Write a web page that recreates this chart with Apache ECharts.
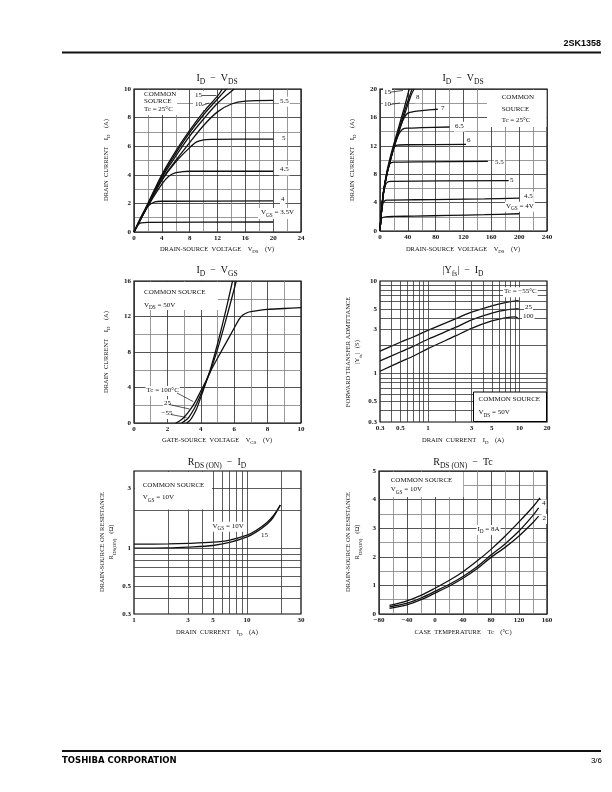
<!DOCTYPE html>
<html><head><meta charset="utf-8">
<script src="https://cdn.jsdelivr.net/npm/echarts@6/dist/echarts.min.js"></script>
<style>html,body{margin:0;padding:0;background:#fff}#c{width:612px;height:792px}</style>
</head><body><div id="c"></div>
<script>
// ---------- DATA ----------
// Chart 1: ID - VDS (0-24 V)
const lo_15  = [[0,0],[2,2.0],[4,4.0],[6,5.65],[8,7.1],[10,8.4],[12,9.5],[12.7,10]];
const lo_10  = [[0,0],[2,1.95],[4,3.9],[6,5.5],[8,6.95],[10,8.2],[12,9.3],[13.3,10]];
const lo_6   = [[0,0],[2,1.9],[4,3.8],[6,5.3],[8,6.7],[10,7.9],[12,9.0],[14.4,10]];
const lo_5_5 = [[0,0],[2,1.85],[4,3.65],[6,5.0],[8,6.25],[10,7.45],[12,8.4],[14,8.95],[16,9.15],[20,9.2]];
const lo_5   = [[0,0],[2,1.85],[4,3.6],[6,4.9],[8,5.9],[9,6.3],[10,6.45],[11,6.48],[20,6.5]];
const lo_4_5 = [[0,0],[2,1.8],[4,3.35],[5,3.9],[6,4.15],[7,4.22],[8,4.25],[20,4.25]];
const lo_4   = [[0,0],[1,1.05],[2,1.8],[3,2.1],[4,2.15],[20,2.17]];
const lo_3_5 = [[0,0],[0.5,0.45],[1,0.64],[2,0.67],[20,0.7]];
// Chart 2: ID - VDS (0-240 V)
const hi_15  = [[0,0],[2,2.7],[5,5.6],[10,8.4],[15,10.5],[20,12.3],[25,14.0],[30,15.7],[35,17.4],[42,20]];
const hi_10  = [[0,0],[2,2.6],[5,5.5],[10,8.2],[15,10.2],[20,12.0],[25,13.6],[30,15.2],[35,16.8],[40,18.3],[46,20]];
const hi_8   = [[0,0],[2,2.6],[5,5.4],[10,8.1],[15,10.0],[20,11.7],[25,13.3],[30,14.8],[35,16.3],[40,17.8],[45,19.2],[49,20]];
const hi_7   = [[0,0],[2,2.6],[5,5.4],[10,8.1],[15,10.0],[20,11.8],[25,13.4],[30,14.9],[35,16.0],[40,16.6],[50,16.85],[60,16.95],[70,17.05],[83,17.15]];
const hi_6_5 = [[0,0],[2,2.6],[5,5.4],[10,8.1],[15,10.0],[20,11.8],[25,13.2],[30,14.1],[35,14.45],[40,14.5],[60,14.55],[100,14.65]];
const hi_6   = [[0,0],[2,2.6],[5,5.4],[10,8.1],[15,10.0],[18,11.2],[21,11.9],[25,12.1],[40,12.15],[126,12.2]];
const hi_5_5 = [[0,0],[2,2.6],[5,5.4],[10,8.0],[13,9.2],[16,9.6],[20,9.7],[60,9.75],[155,9.8]];
const hi_5   = [[0,0],[2,2.6],[5,5.2],[8,6.5],[11,6.9],[15,7.0],[185,7.1]];
const hi_4_5 = [[0,0],[2,2.5],[4,3.8],[6,4.2],[10,4.35],[50,4.4],[100,4.45],[150,4.52],[200,4.62]];
const hi_4   = [[0,0],[1,1.4],[3,1.85],[8,2.0],[20,2.05],[50,2.1],[100,2.2],[150,2.3],[200,2.43]];
// Chart 3: ID - VGS
const vgs_100 = [[2.5,0],[2.75,0.25],[3.0,0.65],[3.4,1.6],[3.7,2.5],[4.0,3.6],[4.3,4.7],[4.6,5.9],[5.0,7.3],[5.5,9.0],[6.0,10.7],[6.3,11.7],[6.5,12.15],[6.8,12.45],[7,12.55],[8,12.8],[9,12.9],[10,13.0]];
const vgs_25  = [[2.85,0],[3.1,0.3],[3.3,0.7],[3.6,1.6],[3.9,2.8],[4.1,3.7],[4.4,5.0],[4.6,6.0],[5.0,8.3],[5.5,11.6],[6.0,15.1],[6.12,16]];
const vgs_m55 = [[3.15,0],[3.35,0.3],[3.5,0.7],[3.75,1.6],[4.0,2.9],[4.15,3.7],[4.4,5.1],[4.6,6.2],[5.0,8.9],[5.5,12.7],[5.9,16]];
// Chart 4: |Yfs| - ID
const yfs_m55 = [[0.3,1.75],[0.5,2.18],[0.7,2.5],[1,2.93],[2,3.9],[3,4.6],[5,5.4],[7,5.85],[9.8,6.15]];
const yfs_25  = [[0.3,1.37],[0.5,1.71],[0.7,1.98],[1,2.35],[2,3.15],[3,3.8],[5,4.5],[7,4.85],[9.8,5.03]];
const yfs_100 = [[0.3,1.06],[0.5,1.34],[0.7,1.55],[1,1.86],[2,2.55],[3,3.08],[5,3.7],[7,4.0],[9,4.1],[9.8,3.88]];
// Chart 5: RDS(ON) - ID
const rds_10 = [[1,1.076],[2,1.08],[3,1.09],[5,1.115],[7,1.16],[10,1.27],[12,1.38],[15,1.6],[17,1.8],[19.7,2.2]];
const rds_15 = [[1,1.0],[2,1.005],[3,1.02],[5,1.05],[7,1.11],[10,1.23],[12,1.34],[15,1.55],[17,1.75],[19.7,2.2]];
// Chart 6: RDS(ON) - Tc
const tc_8 = [[-65,0.3],[-40,0.46],[-20,0.65],[0,0.9],[20,1.17],[40,1.48],[60,1.85],[80,2.26],[100,2.72],[120,3.22],[140,3.75],[150,4.06]];
const tc_4 = [[-65,0.25],[-40,0.38],[-20,0.56],[0,0.79],[20,1.03],[40,1.31],[60,1.65],[80,2.06],[100,2.45],[120,2.9],[140,3.45],[148,3.71]];
const tc_2 = [[-65,0.2],[-40,0.32],[-20,0.5],[0,0.73],[20,0.97],[40,1.25],[60,1.58],[80,1.98],[100,2.33],[120,2.73],[140,3.2],[148,3.42]];
// Log-axis tick labels and grid lines
const yfsXTicks = [0.3,0.5,1,3,5,10,20];
const yfsYTicks = [0.3,0.5,1,3,5,10];
const yfsXGrid = [0.4,0.5,0.6,0.7,0.8,0.9,1,2,3,4,5,6,7,8,9,10];
const yfsYGrid = [0.4,0.5,0.6,0.7,0.8,0.9,1,2,3,4,5,6,7,8,9];
const rdsXTicks = [1,3,5,10,30];
const rdsYTicks = [0.3,0.5,1,3];
const rdsXGrid = [2,3,4,5,6,7,8,9,10,20];
const rdsYGrid = [0.4,0.5,0.6,0.7,0.8,0.9,1,2,3];

// ---------- STYLE ----------
const BLACK = '#111';
const SERIF = "'Liberation Serif','DejaVu Serif',serif";
const SANS = "'Liberation Sans',Arial,sans-serif";
const WIDE = "'DejaVu Sans','Liberation Sans',sans-serif";
const chart = echarts.init(document.getElementById('c'), null, {renderer:'canvas'});

function curve(i, data){
  return {type:'line', xAxisIndex:i, yAxisIndex:i, data, smooth:0.3,
    showSymbol:false, symbol:'none', silent:true, lineStyle:{color:BLACK, width:1.3}, z:3};
}
function gridSeries(i, xs, ys){
  return {type:'line', xAxisIndex:i, yAxisIndex:i, data:[], silent:true, z:1,
    markLine:{silent:true, animation:false, symbol:['none','none'], label:{show:false},
      lineStyle:{color:'#333', width:0.8, type:'solid'}, emphasis:{disabled:true},
      data:[...xs.map(v=>({xAxis:v})), ...ys.map(v=>({yAxis:v}))]}};
}
const lbl = {fontFamily:SERIF, fontSize:7, fontWeight:'bold', color:BLACK, margin:3};
function linAxis(gi, min, max, interval, extra){
  return Object.assign({gridIndex:gi, type:'value', min, max, interval,
    axisLine:{show:false}, axisTick:{show:false},
    splitLine:{show:true, lineStyle:{color:'#2a2a2a', width:0.8}},
    minorTick:{show:false, splitNumber:2},
    minorSplitLine:{show:true, lineStyle:{color:'#808080', width:0.8}},
    axisLabel:Object.assign({}, lbl)}, extra||{});
}
function logAxis(gi, min, max, ticks){
  return {gridIndex:gi, type:'log', logBase:10, min, max,
    axisLine:{show:false}, axisTick:{show:false}, splitLine:{show:false},
    axisLabel:Object.assign({customValues:ticks, formatter:v=>String(parseFloat((+v).toPrecision(3)))}, lbl)};
}
function rich(str){ return '{n|' + str.replace(/_\{([^}]*)\}/g, '}{s|$1}{n|') + '}'; }
function richStyle(size, font){
  return {n:{fontFamily:font||SERIF, fontSize:size, fill:BLACK, color:BLACK, verticalAlign:'bottom', padding:[0,0,Math.round(size*0.3),0]},
          s:{fontFamily:font||SERIF, fontSize:size*0.75, fill:BLACK, color:BLACK, verticalAlign:'bottom'}};
}
function T(x, y, str, o){
  o = o || {};
  const st = {text:rich(str), rich:richStyle(o.size||7), align:o.align||'left', verticalAlign:'middle', fill:BLACK};
  if (o.bg){ st.backgroundColor = '#fff'; st.padding = [0.5,1]; }
  return {type:'text', x, y, z:101, silent:true, rotation:o.rot||0, style:st};
}
function R(x, y, w, h, stroke){
  return {type:'rect', z:100, silent:true, shape:{x, y, width:w, height:h},
    style:{fill:'#fff', stroke:stroke||null, lineWidth:stroke?1:0}};
}
function L(x1, y1, x2, y2, w){
  return {type:'line', z:101, silent:true, shape:{x1, y1, x2, y2}, style:{stroke:BLACK, lineWidth:w||0.7}};
}
const ROT = Math.PI/2;

const grids = [
  {left:134, top:89, width:167, height:143},
  {left:380, top:89, width:167, height:142},
  {left:134, top:281, width:167, height:142},
  {left:380, top:281, width:167, height:141},
  {left:134, top:471, width:167, height:143},
  {left:379, top:471, width:168, height:143}
].map(g=>Object.assign({show:true, borderColor:'#000', borderWidth:1.2, backgroundColor:'rgba(0,0,0,0)', containLabel:false, outerBoundsMode:'none'}, g));

const option = {
  animation:false,
  backgroundColor:'#fff',
  grid:grids,
  xAxis:[
    linAxis(0, 0, 24, 4),
    linAxis(1, 0, 240, 40),
    linAxis(2, 0, 10, 2),
    logAxis(3, 0.3, 20, yfsXTicks),
    logAxis(4, 1, 30, rdsXTicks),
    linAxis(5, -80, 160, 40, {axisLabel:Object.assign({}, lbl, {formatter:v=>v<0?'\u2212'+(-v):String(v)})})
  ],
  yAxis:[
    linAxis(0, 0, 10, 2),
    linAxis(1, 0, 20, 4),
    linAxis(2, 0, 16, 4),
    logAxis(3, 0.3, 10, yfsYTicks),
    logAxis(4, 0.3, 4.1, rdsYTicks),
    linAxis(5, 0, 5, 1)
  ],
  series:[
    ...[lo_15, lo_10, lo_6, lo_5_5, lo_5, lo_4_5, lo_4, lo_3_5].map(d=>curve(0, d)),
    ...[hi_15, hi_10, hi_8, hi_7, hi_6_5, hi_6, hi_5_5, hi_5, hi_4_5, hi_4].map(d=>curve(1, d)),
    ...[vgs_100, vgs_25, vgs_m55].map(d=>curve(2, d)),
    gridSeries(3, yfsXGrid, yfsYGrid),
    ...[yfs_m55, yfs_25, yfs_100].map(d=>curve(3, d)),
    gridSeries(4, rdsXGrid, rdsYGrid),
    ...[rds_10, rds_15].map(d=>curve(4, d)),
    ...[tc_8, tc_4, tc_2].map(d=>curve(5, d))
  ],
  graphic:{elements:[
    // header / footer
    {type:'text', x:601, y:44, z:101, style:{text:'2SK1358', font:"bold 9px "+SANS, fill:'#000', align:'right', verticalAlign:'middle'}},
    L(62, 52.5, 601, 52.5, 2),
    L(62, 751, 601, 751, 2),
    {type:'text', x:62, y:761, z:101, style:{text:'TOSHIBA CORPORATION', font:"bold 8.5px "+WIDE, fill:'#000', align:'left', verticalAlign:'middle'}},
    {type:'text', x:602, y:761, z:101, style:{text:'3/6', font:"8px "+SANS, fill:'#000', align:'right', verticalAlign:'middle'}},
    // titles
    T(217, 80, 'I_{D}  \u2212  V_{DS}', {size:10, align:'center'}),
    T(463, 80, 'I_{D}  \u2212  V_{DS}', {size:10, align:'center'}),
    T(217, 272, 'I_{D}  \u2212  V_{GS}', {size:10, align:'center'}),
    T(463, 272, '|Y_{fs}|  \u2212  I_{D}', {size:10, align:'center'}),
    T(217, 464, 'R_{DS (ON)}  \u2212  I_{D}', {size:10, align:'center'}),
    T(463, 464, 'R_{DS (ON)}  \u2212  Tc', {size:10, align:'center'}),
    // axis names
    T(107, 160, 'DRAIN  CURRENT    I_{D}    (A)', {size:6.5, align:'center', rot:ROT}),
    T(217, 250, 'DRAIN-SOURCE  VOLTAGE    V_{DS}    (V)', {size:6.5, align:'center'}),
    T(353, 160, 'DRAIN  CURRENT    I_{D}    (A)', {size:6.5, align:'center', rot:ROT}),
    T(463, 250, 'DRAIN-SOURCE  VOLTAGE    V_{DS}    (V)', {size:6.5, align:'center'}),
    T(107, 352, 'DRAIN  CURRENT    I_{D}    (A)', {size:6.5, align:'center', rot:ROT}),
    T(217, 441, 'GATE-SOURCE  VOLTAGE    V_{GS}    (V)', {size:6.5, align:'center'}),
    T(354, 352, 'FORWARD TRANSFER ADMITTANCE\n|Y_{fs}|   (S)', {size:6.5, align:'center', rot:ROT}),
    T(463, 441, 'DRAIN  CURRENT    I_{D}    (A)', {size:6.5, align:'center'}),
    T(108, 542, 'DRAIN-SOURCE ON RESISTANCE\nR_{DS(ON)}   (\u03a9)', {size:6.5, align:'center', rot:ROT}),
    T(217, 633, 'DRAIN  CURRENT    I_{D}    (A)', {size:6.5, align:'center'}),
    T(354, 542, 'DRAIN-SOURCE ON RESISTANCE\nR_{DS(ON)}   (\u03a9)', {size:6.5, align:'center', rot:ROT}),
    T(463, 633, 'CASE  TEMPERATURE    Tc    (\u00b0C)', {size:6.5, align:'center'}),
    // chart 1 annotations
    R(135, 90, 42, 25),
    T(144, 95, 'COMMON'), T(144, 102.5, 'SOURCE'), T(144, 110, 'Tc = 25\u00b0C'),
    R(193, 91, 12, 19),
    T(195, 95.7, '15'), L(202, 95.5, 216.5, 95.5),
    T(195, 105.5, '10'), L(202, 105.5, 209, 103),
    T(279, 101.7, '5.5', {bg:true}), T(281, 139.3, '5', {bg:true}), T(279, 170.5, '4.5', {bg:true}), T(280, 200, '4', {bg:true}),
    R(258, 208, 42, 11), T(261, 213.3, 'V_{GS} = 3.5V'),
    // chart 2 annotations
    R(487, 90, 59.5, 37),
    T(501.7, 98.3, 'COMMON'), T(501.7, 110, 'SOURCE'), T(501.7, 121.5, 'Tc = 25\u00b0C'),
    T(383, 92.7, '15', {bg:true}), L(390, 92.2, 403, 90.5),
    T(383, 105, '10', {bg:true}), L(390, 104.5, 400, 103),
    T(415, 98.3, '8', {bg:true}),
    T(440, 109.3, '7', {bg:true}), T(454, 126.7, '6.5', {bg:true}), T(466, 140.7, '6', {bg:true}),
    T(494, 163.3, '5.5', {bg:true}), T(509, 181, '5', {bg:true}), T(523, 196.7, '4.5', {bg:true}),
    T(505, 206.7, 'V_{GS} = 4V', {bg:true}),
    // chart 3 annotations
    R(135, 282, 83, 28),
    T(144, 293.3, 'COMMON SOURCE'), T(144, 305.7, 'V_{DS} = 50V'),
    T(145.5, 391, 'Tc = 100\u00b0C', {bg:true}), L(177, 393, 193, 401.5),
    T(163, 404.3, '25', {bg:true}), L(169, 404.5, 189.5, 409),
    T(160.5, 414, '\u221255', {bg:true}), L(171, 414.5, 186.5, 417.5),
    // chart 4 annotations
    T(503, 292.3, 'Tc = \u221255\u00b0C', {bg:true}), T(524, 307.7, '25', {bg:true}), T(522, 316.7, '100', {bg:true}),
    R(473.5, 392, 73, 29.5, '#000'),
    T(478.5, 400.3, 'COMMON SOURCE'), T(478.5, 413.3, 'V_{DS} = 50V'),
    // chart 5 annotations
    R(135, 472, 77, 37.5),
    T(142.7, 486, 'COMMON SOURCE'), T(142.7, 498.3, 'V_{GS} = 10V'),
    T(211.5, 526.7, 'V_{GS} = 10V', {bg:true}), T(260, 536, '15', {bg:true}),
    // chart 6 annotations
    R(380, 472, 83.5, 25),
    T(390.7, 481, 'COMMON SOURCE'), T(390.7, 490.5, 'V_{GS} = 10V'),
    T(476.5, 530, 'I_{D} = 8A', {bg:true}), T(541, 504.3, '4', {bg:true}), T(541.5, 519, '2', {bg:true})
  ]}
};
chart.setOption(option);
</script></body></html>
